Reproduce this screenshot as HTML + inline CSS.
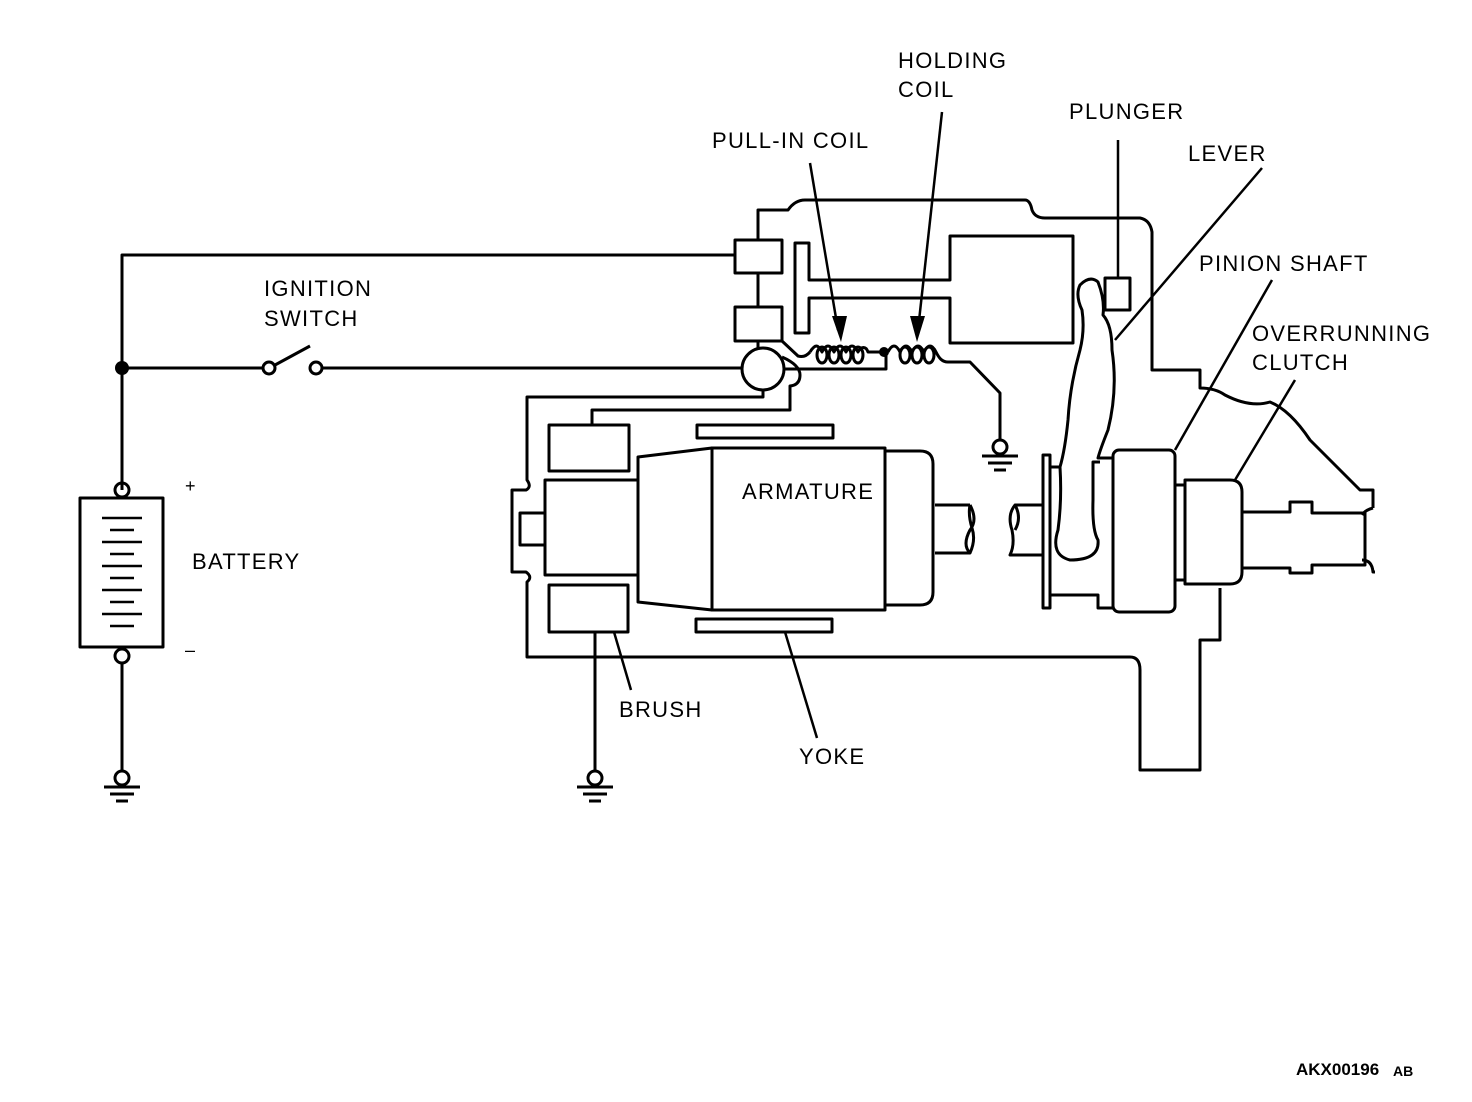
<!DOCTYPE html>
<html><head><style>
html,body{margin:0;padding:0;background:#fff;}
svg{display:block;}
text{font-family:"Liberation Sans",Arial,sans-serif;font-size:22px;fill:#000;letter-spacing:1.3px;}
</style></head><body>
<svg width="1472" height="1102" viewBox="0 0 1472 1102" xmlns="http://www.w3.org/2000/svg">
<g fill="none" stroke="#000" stroke-width="3" stroke-linejoin="round">
<!-- left circuit -->
<path d="M122,490 V255 H735"/>
<path d="M122,368 H263"/>
<circle cx="269" cy="368" r="6"/>
<circle cx="316" cy="368" r="6"/>
<path d="M275,365 L310,346"/>
<path d="M322,368 H742"/>
<circle cx="122" cy="490" r="7"/>
<rect x="80" y="498" width="83" height="149"/>
<circle cx="122" cy="656" r="7"/>
<path d="M122,663 V771"/>
<circle cx="122" cy="778" r="7"/>
<path d="M104,787 H140 M110,794 H134 M116,801 H128"/>
<g stroke-width="2.5">
<path d="M102,518 H142 M110,530 H134 M102,542 H142 M110,554 H134 M102,566 H142 M110,578 H134 M102,590 H142 M110,602 H134 M102,614 H142 M110,626 H134"/>
</g>
<!-- solenoid -->
<path d="M758,240 V210 H788 Q795,200 805,200 H1025 Q1030,200 1032,210 Q1035,218 1045,218 H1140 Q1150,220 1152,232 V370 H1200 V388 Q1215,388 1225,395 Q1250,408 1270,402 Q1290,410 1310,440 L1360,490 H1373 V508"/>
<rect x="735" y="240" width="47" height="33"/>
<rect x="735" y="307" width="47" height="34"/>
<path d="M758,273 V307 M758,341 V350"/>
<path d="M795,243 H809 V280 H950 V236 H1073 V343 H950 V298 H809 V333 H795 Z"/>
<path d="M782,341 L798,356 Q805,358 810,352"/>
<path d="M810,352 c5,-8 8,-8 12,0 c4,-8 8,-8 12,0 c4,-8 8,-8 12,0 c4,-8 8,-8 12,0 c3,-6 8,-6 10,0 L884,352"/>
<ellipse cx="822" cy="355" rx="5" ry="8"/><ellipse cx="834" cy="355" rx="5" ry="8"/><ellipse cx="846" cy="355" rx="5" ry="8"/><ellipse cx="858" cy="355" rx="5" ry="8"/>
<path d="M888,352 c4,-8 8,-8 12,0 c4,-8 8,-8 12,0 c4,-8 8,-8 12,0 c4,-8 8,-8 12,0 c3,6 6,10 12,10 H970 L1000,393 V440"/>
<ellipse cx="905" cy="355" rx="5" ry="8"/><ellipse cx="917" cy="355" rx="5" ry="8"/><ellipse cx="929" cy="355" rx="5" ry="8"/>
<path d="M784,369 H886 V352"/>
<circle cx="1000" cy="447" r="7"/>
<path d="M982,456 H1018 M988,463 H1012 M994,470 H1006"/>
<circle cx="763" cy="369" r="21"/>
<path d="M782,357 Q800,365 800,375 Q800,385 790,386 V410 H592 V425"/>
<path d="M763,390 V397 H527 V480 Q532,487 526,490 H512 V572 H526 Q533,577 527,582 V657 H1130 Q1140,657 1140,670 V770 H1200 V640 H1220 V588"/>
<!-- motor -->
<rect x="549" y="425" width="80" height="46"/>
<rect x="549" y="585" width="79" height="47"/>
<rect x="545" y="480" width="93" height="95"/>
<rect x="520" y="513" width="25" height="32"/>
<rect x="697" y="425" width="136" height="13"/>
<rect x="696" y="619" width="136" height="13"/>
<path d="M638,457 L712,448 V610 L638,602 Z"/>
<rect x="712" y="448" width="173" height="162"/>
<path d="M885,451 H920 Q933,451 933,464 V592 Q933,605 920,605 H885"/>
<path d="M935,505 H970 M935,553 H970"/>
<path d="M970,505 Q978,520 970,530 Q962,545 970,553 Q976,540 972,528 Q968,515 970,505"/>
<path d="M595,632 V771"/>
<circle cx="595" cy="778" r="7"/>
<path d="M577,787 H613 M583,794 H607 M589,801 H601"/>
<!-- pinion side -->
<path d="M1043,505 H1015 Q1007,515 1012,530 Q1015,545 1010,555 H1043"/>
<path d="M1015,505 Q1022,518 1015,530"/>
<rect x="1043" y="455" width="7" height="153"/>
<path d="M1050,467 H1060 Q1065,450 1068,420 Q1070,385 1080,350 Q1085,330 1082,310 Q1075,295 1080,285 Q1090,275 1098,282 Q1105,300 1103,315 Q1112,325 1112,350 Q1118,390 1108,430 Q1100,450 1098,458 H1113"/>
<path d="M1060,467 Q1062,500 1058,530 Q1050,555 1070,560 Q1100,560 1098,540 Q1092,530 1093,500 V462 H1100"/>
<path d="M1050,595 H1098 V608 H1113"/>
<rect x="1105" y="278" width="25" height="32"/>
<rect x="1113" y="450" width="62" height="162" rx="6"/>
<path d="M1175,485 H1185 M1175,580 H1185"/>
<path d="M1185,480 H1230 Q1242,480 1242,492 V572 Q1242,584 1230,584 H1185 Z"/>
<path d="M1242,512 H1290 V502 H1312 V513 H1365 V565 H1312 V573 H1290 V568 H1242"/>
<path d="M1373,508 Q1365,510 1362,515 M1362,560 Q1372,560 1373,572 H1375"/>
<!-- leaders -->
<g stroke-width="2.5">
<path d="M810,163 L838,330"/>
<path d="M942,112 L918,330"/>
<path d="M1118,140 V278"/>
<path d="M1262,168 L1115,340"/>
<path d="M1272,280 L1175,450"/>
<path d="M1295,380 L1235,480"/>
<path d="M631,690 L614,632"/>
<path d="M817,738 L785,632"/>
</g>
</g>
<g fill="#000">
<circle cx="122" cy="368" r="7"/>
<circle cx="884" cy="352" r="5"/>
<path d="M832,316 L847,316 L841,342 Z"/>
<path d="M910,316 L925,316 L917,342 Z"/>
</g>
<text x="264" y="296">IGNITION</text>
<text x="264" y="326">SWITCH</text>
<text x="185" y="492" style="font-size:18px">+</text>
<text x="185" y="656" style="font-size:18px">–</text>
<text x="192" y="569">BATTERY</text>
<text x="712" y="148">PULL-IN COIL</text>
<text x="898" y="68">HOLDING</text>
<text x="898" y="97">COIL</text>
<text x="1069" y="119">PLUNGER</text>
<text x="1188" y="161">LEVER</text>
<text x="1199" y="271">PINION SHAFT</text>
<text x="1252" y="341">OVERRUNNING</text>
<text x="1252" y="370">CLUTCH</text>
<text x="742" y="499">ARMATURE</text>
<text x="619" y="717">BRUSH</text>
<text x="799" y="764">YOKE</text>
<text x="1296" y="1075" style="font-size:17px;font-weight:bold;letter-spacing:0">AKX00196</text>
<text x="1393" y="1076" style="font-size:14px;font-weight:bold;letter-spacing:0">AB</text>
</svg>
</body></html>
